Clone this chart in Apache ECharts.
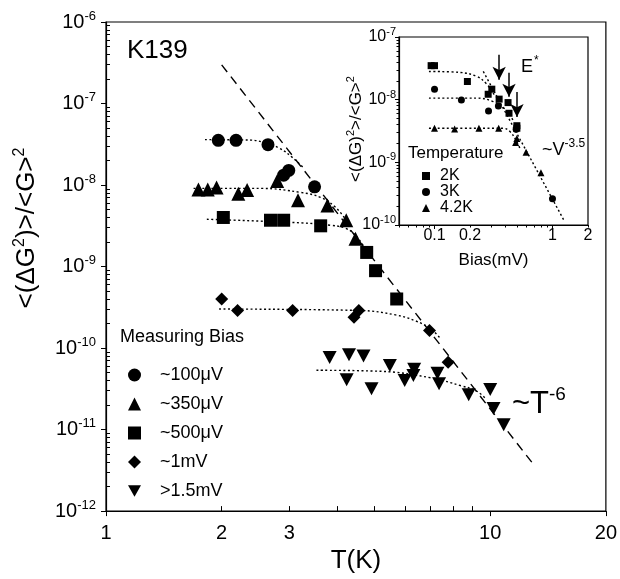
<!DOCTYPE html>
<html>
<head>
<meta charset="utf-8">
<script src="https://cdn.jsdelivr.net/npm/echarts@6/dist/echarts.min.js"></script>
<style>
  html, body { margin: 0; padding: 0; background: #fff; }
  #chart { width: 620px; height: 579px; }
</style>
</head>
<body>
<div id="chart"></div>
<script>
// main panel: noise vs temperature, one series per measuring bias
const t100 = [1.96, 2.18, 2.64, 2.90, 2.99, 3.49]
const v100 = [3.54e-8, 3.54e-8, 3.13e-8, 1.32e-8, 1.51e-8, 9.5e-9]
const t350 = [1.74, 1.84, 1.94, 2.21, 2.33, 2.79, 3.16, 3.77, 4.22, 4.46]
const v350 = [8.8e-9, 8.8e-9, 9.3e-9, 7.8e-9, 8.7e-9, 1.12e-8, 6.5e-9, 5.6e-9, 3.7e-9, 2.2e-9]
const t500 = [2.02, 2.68, 2.90, 3.62, 4.77, 5.03, 5.71]
const v500 = [4.0e-9, 3.7e-9, 3.7e-9, 3.16e-9, 1.49e-9, 8.9e-10, 4.0e-10]
const t1m = [2.00, 2.20, 3.06, 4.42, 4.55, 6.95, 7.77]
const v1m = [4.0e-10, 2.88e-10, 2.88e-10, 2.39e-10, 2.88e-10, 1.64e-10, 6.7e-11]
const t15m = [3.82, 4.29, 4.68, 4.23, 4.91, 5.48, 5.99, 6.34, 6.31, 7.29, 7.36, 8.79, 10.0, 10.2, 10.84]
const v15m = [7.65e-11, 8.3e-11, 8.0e-11, 4.1e-11, 3.17e-11, 6.1e-11, 4.0e-11, 5.5e-11, 4.6e-11, 4.9e-11, 3.65e-11, 2.68e-11, 3.1e-11, 1.81e-11, 1.15e-11]

// dotted fit curves
const fit100T = [1.81, 2.38, 2.63, 2.84, 3.06, 3.25]
const fit100V = [3.61e-8, 3.56e-8, 3.23e-8, 2.8e-8, 2.17e-8, 1.66e-8]
const fit350T = [1.69, 2.52, 3.21, 3.62, 3.96, 4.20]
const fit350V = [9.1e-9, 9.1e-9, 8.12e-9, 7.05e-9, 5.32e-9, 3.8e-9]
const fit500T = [1.83, 3.21, 3.84, 4.20, 4.46, 4.74]
const fit500V = [3.8e-9, 3.44e-9, 3.21e-9, 2.95e-9, 2.42e-9, 1.63e-9]
const fit1mT = [1.97, 4.60, 5.67, 6.40, 7.00, 7.43]
const fit1mV = [3.01e-10, 2.89e-10, 2.55e-10, 2.15e-10, 1.72e-10, 1.3e-10]
const fit15T = [3.53, 5.19, 7.00, 8.39, 9.18, 9.74]
const fit15V = [5.34e-11, 5.19e-11, 4.32e-11, 3.45e-11, 3.0e-11, 2.39e-11]
// ~T^-6 dashed line
const powT = [2.0, 13.0]
const powV = [2.98e-7, 3.67e-12]

// inset: noise vs bias at three temperatures
const b2K = [0.0936, 0.1, 0.19, 0.285, 0.306, 0.353, 0.42, 0.428, 0.499, 0.499]
const v2K = [3.49e-8, 3.49e-8, 1.95e-8, 1.22e-8, 1.47e-8, 1.02e-8, 8.98e-9, 6.07e-9, 3.84e-9, 3.5e-9]
const b3K = [0.1, 0.169, 0.287, 0.348, 0.492, 1.0]
const v3K = [1.47e-8, 9.9e-9, 6.6e-9, 7.9e-9, 3.36e-9, 2.62e-10]
const b42K = [0.1, 0.148, 0.238, 0.35, 0.499, 0.487, 0.597, 0.798]
const v42K = [3.49e-9, 3.4e-9, 3.5e-9, 3.5e-9, 2.41e-9, 2.08e-9, 1.45e-9, 6.85e-10]
const fit2KB = [0.0897, 0.165, 0.2275, 0.276, 0.314, 0.353]
const fit2KV = [2.82e-8, 2.72e-8, 2.35e-8, 1.79e-8, 1.27e-8, 9.9e-9]
const fit3KB = [0.0897, 0.226, 0.314, 0.404, 0.462]
const fit3KV = [1.06e-8, 1.06e-8, 9.33e-9, 6.86e-9, 4.74e-9]
const fit42KB = [0.0897, 0.381, 0.436, 0.49, 0.529]
const fit42KV = [3.49e-9, 3.49e-9, 3.1e-9, 2.26e-9, 1.68e-9]
const powB = [0.259, 1.253]
const powBV = [2.82e-8, 1.18e-10]
// E* arrows
const arrowB = [0.353, 0.428, 0.5]
const arrowTop = [5.2e-8, 2.69e-8, 1.33e-8]
const arrowTip = [2.08e-8, 1.11e-8, 5.3e-9]

// ticks / labels
const tLabels = [1, 2, 3, 10, 20]
const tMajor = [1, 10, 20]
const tMinor = [2, 3, 4, 5, 6, 7, 8, 9]
const gMajor = [1e-12, 1e-11, 1e-10, 1e-9, 1e-8, 1e-7, 1e-6]
const bLabels = [0.1, 0.2, 1, 2]
const bMajor = [0.1, 1]
const bMinor = [0.05, 0.06, 0.07, 0.08, 0.09, 0.2, 0.3, 0.4, 0.5, 0.6, 0.7, 0.8, 0.9, 2]
const iMajor = [1e-10, 1e-9, 1e-8, 1e-7]

const FONT = 'Liberation Sans'

function minorOf(majors) {
  const out = []
  majors.slice(0, -1).forEach(m => {
    for (let k = 2; k <= 9; k++) out.push(m * k)
  })
  return out
}
function zip(a, b) { return a.map((x, i) => [x, b[i]]) }
function powLabel(v) { return '{b|10}{s|' + Math.round(Math.log10(v)) + '}' }
function numLabel(v) { return String(+(+v).toPrecision(3)) }

const downTri = 'path://M0,0L12,0L6,10.4Z'

function scatter(name, x, y, symbol, size, xi, yi) {
  return {
    name, type: 'scatter', xAxisIndex: xi, yAxisIndex: yi,
    symbol, symbolSize: size, itemStyle: { color: '#000', opacity: 1 },
    data: zip(x, y), z: 5,
  }
}
function curve(name, x, y, dash, xi, yi, smooth) {
  return {
    name, type: 'line', xAxisIndex: xi, yAxisIndex: yi,
    showSymbol: false, symbol: 'none', smooth: smooth ? 0.4 : false,
    lineStyle: { color: '#000', width: 1.4, type: dash },
    data: zip(x, y), z: 3, silent: true,
  }
}

function logAxis(grid, min, max, opts) {
  return Object.assign({
    type: 'log', logBase: 10, gridIndex: grid, min, max,
    splitLine: { show: false },
    axisLine: { show: true, lineStyle: { color: '#000', width: 1.2 } },
  }, opts)
}

const chart = echarts.init(document.getElementById('chart'), null, { renderer: 'canvas' })

const supRich = (base, sup, lift) => ({
  b: { fontSize: base, fontFamily: FONT, color: '#000' },
  s: { fontSize: sup, fontFamily: FONT, color: '#000', padding: [0, 0, lift, 0] },
})

chart.setOption({
  animation: false,
  backgroundColor: '#fff',
  grid: [
    { left: 106, top: 22, width: 500, height: 491, show: true, borderColor: '#000', borderWidth: 1.2 },
    { left: 399, top: 37, width: 189, height: 188, show: true, borderColor: '#000', borderWidth: 1.2, backgroundColor: '#fff' },
  ],
  xAxis: [
    logAxis(0, 1, 20, {
      name: 'T(K)', nameLocation: 'middle', nameGap: 31,
      nameTextStyle: { fontSize: 26, fontFamily: FONT, color: '#000' },
      axisTick: { customValues: tMajor, inside: false, length: 5, lineStyle: { color: '#000' } },
      axisLabel: { customValues: tLabels, formatter: numLabel, margin: 12, fontSize: 20, fontFamily: FONT, color: '#000' },
    }),
    logAxis(0, 1, 20, {
      position: 'bottom', axisLine: { show: false },
      axisTick: { customValues: tMinor, inside: true, length: 5, lineStyle: { color: '#000' } },
      axisLabel: { show: false },
    }),
    logAxis(1, 0.05, 2, {
      name: 'Bias(mV)', nameLocation: 'middle', nameGap: 27,
      nameTextStyle: { fontSize: 17, fontFamily: FONT, color: '#000' },
      axisTick: { customValues: bMajor, inside: false, length: 4, lineStyle: { color: '#000' } },
      axisLabel: { customValues: bLabels, formatter: numLabel, margin: 3, fontSize: 16, fontFamily: FONT, color: '#000' },
    }),
    logAxis(1, 0.05, 2, {
      position: 'bottom', axisLine: { show: false },
      axisTick: { customValues: bMinor, inside: false, length: 2.5, lineStyle: { color: '#000' } },
      axisLabel: { show: false },
    }),
  ],
  yAxis: [
    logAxis(0, 1e-12, 1e-6, {
      axisTick: { customValues: gMajor, inside: false, length: 5, lineStyle: { color: '#000' } },
      axisLabel: { customValues: gMajor, formatter: powLabel, margin: 10, rich: supRich(20, 13, 12) },
    }),
    logAxis(0, 1e-12, 1e-6, {
      position: 'left', axisLine: { show: false },
      axisTick: { customValues: minorOf(gMajor), inside: true, length: 4, lineStyle: { color: '#000' } },
      axisLabel: { show: false },
    }),
    logAxis(1, 1e-10, 1e-7, {
      axisTick: { customValues: iMajor, inside: false, length: 4, lineStyle: { color: '#000' } },
      axisLabel: { customValues: iMajor, formatter: powLabel, margin: 3, rich: supRich(16, 11, 10) },
    }),
    logAxis(1, 1e-10, 1e-7, {
      position: 'left', axisLine: { show: false },
      axisTick: { customValues: minorOf(iMajor), inside: false, length: 2.5, lineStyle: { color: '#000' } },
      axisLabel: { show: false },
    }),
  ],
  legend: [
    {
      orient: 'vertical', left: 123, top: 361, itemWidth: 13, itemHeight: 13, itemGap: 11,
      selectedMode: false,
      data: ['~100μV', '~350μV', '~500μV', '~1mV', '>1.5mV'],
      textStyle: { fontSize: 18, fontFamily: FONT, color: '#000', padding: [0, 0, 0, 14] },
    },
    {
      orient: 'vertical', left: 417, top: 163, itemWidth: 8, itemHeight: 8, itemGap: 0,
      selectedMode: false,
      data: ['2K', '3K', '4.2K'],
      textStyle: { fontSize: 16, fontFamily: FONT, color: '#000', padding: [0, 0, 0, 5] },
    },
  ],
  graphic: [
    { type: 'text', x: 127, y: 51, style: { text: 'K139', fontSize: 26, fontFamily: FONT, fill: '#000', verticalAlign: 'middle' } },
    { type: 'text', x: 120, y: 337, style: { text: 'Measuring Bias', fontSize: 18, fontFamily: FONT, fill: '#000', verticalAlign: 'middle' } },
    {
      type: 'text', x: 512, y: 404,
      style: {
        text: '{b|~T}{s|-6}', verticalAlign: 'middle',
        rich: { b: { fontSize: 31, fontFamily: FONT, fill: '#000' }, s: { fontSize: 19, fontFamily: FONT, fill: '#000', padding: [0, 0, 18, 0] } },
      },
    },
    {
      type: 'text', x: 27, y: 228, rotation: Math.PI / 2,
      style: {
        text: '{b|<(ΔG}{s|2}{b|)>/<G>}{s|2}', align: 'center', verticalAlign: 'middle',
        rich: { b: { fontSize: 26, fontFamily: FONT, fill: '#000' }, s: { fontSize: 16, fontFamily: FONT, fill: '#000', padding: [0, 0, 14, 0] } },
      },
    },
    {
      type: 'text', x: 356, y: 129, rotation: Math.PI / 2,
      style: {
        text: '{b|<(ΔG)}{s|2}{b|>/<G>}{s|2}', align: 'center', verticalAlign: 'middle',
        rich: { b: { fontSize: 17, fontFamily: FONT, fill: '#000' }, s: { fontSize: 11, fontFamily: FONT, fill: '#000', padding: [0, 0, 10, 0] } },
      },
    },
    { type: 'text', x: 408, y: 153, style: { text: 'Temperature', fontSize: 17, fontFamily: FONT, fill: '#000', verticalAlign: 'middle' } },
    {
      type: 'text', x: 521, y: 67,
      style: {
        text: '{b|E}{s|*}', verticalAlign: 'middle',
        rich: { b: { fontSize: 18, fontFamily: FONT, fill: '#000' }, s: { fontSize: 12, fontFamily: FONT, fill: '#000', padding: [0, 0, 12, 1] } },
      },
    },
    {
      type: 'text', x: 542, y: 150,
      style: {
        text: '{b|~V}{s|-3.5}', verticalAlign: 'middle',
        rich: { b: { fontSize: 18, fontFamily: FONT, fill: '#000' }, s: { fontSize: 12, fontFamily: FONT, fill: '#000', padding: [0, 0, 12, 0] } },
      },
    },
  ],
  series: [
    curve('fit100', fit100T, fit100V, [2, 2.5], 0, 0, true),
    curve('fit350', fit350T, fit350V, [2, 2.5], 0, 0, true),
    curve('fit500', fit500T, fit500V, [2, 2.5], 0, 0, true),
    curve('fit1m', fit1mT, fit1mV, [2, 2.5], 0, 0, true),
    curve('fit15m', fit15T, fit15V, [2, 2.5], 0, 0, true),
    curve('powT', powT, powV, [9, 6], 0, 0, false),
    scatter('~100μV', t100, v100, 'circle', 13, 0, 0),
    scatter('~350μV', t350, v350, 'triangle', 14, 0, 0),
    scatter('~500μV', t500, v500, 'rect', 13, 0, 0),
    scatter('~1mV', t1m, v1m, 'diamond', 13, 0, 0),
    scatter('>1.5mV', t15m, v15m, downTri, [14, 13], 0, 0),

    curve('fit2K', fit2KB, fit2KV, [2, 2.5], 2, 2, true),
    curve('fit3K', fit3KB, fit3KV, [2, 2.5], 2, 2, true),
    curve('fit42K', fit42KB, fit42KV, [2, 2.5], 2, 2, true),
    Object.assign(curve('powB', powB, powBV, [2, 2.5], 2, 2, false), {
      markLine: {
        silent: true, symbol: ['none', 'arrow'], symbolSize: [10, 13],
        label: { show: false },
        lineStyle: { color: '#000', width: 1.5, type: 'solid' },
        data: arrowB.map((b, i) => [{ coord: [b, arrowTop[i]] }, { coord: [b, arrowTip[i]] }]),
      },
    }),
    scatter('2K', b2K, v2K, 'rect', 7, 2, 2),
    scatter('3K', b3K, v3K, 'circle', 7, 2, 2),
    scatter('4.2K', b42K, v42K, 'triangle', 7, 2, 2),
  ],
})
</script>
</body>
</html>
